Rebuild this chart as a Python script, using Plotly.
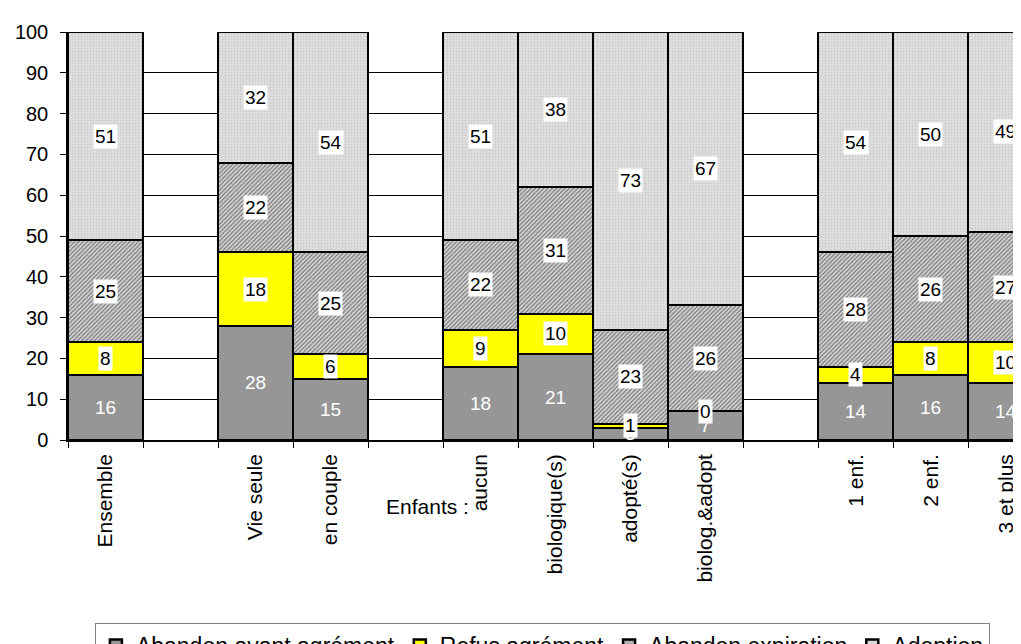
import plotly.graph_objects as go

categories = ["Ensemble", " ", "Vie seule", "en couple", "  ", "aucun", "biologique(s)",
              "adopté(s)", "biolog.&adopt", "   ", "1 enf.", "2 enf.", "3 et plus"]
abandon_avant = [16, None, 28, 15, None, 18, 21, 3, 7, None, 14, 16, 14]
refus = [8, None, 18, 6, None, 9, 10, 1, 0, None, 4, 8, 10]
abandon_exp = [25, None, 22, 25, None, 22, 31, 23, 26, None, 28, 26, 27]
adoption = [51, None, 32, 54, None, 51, 38, 73, 67, None, 54, 50, 49]
series_names = ["Abandon avant agrément", "Refus agrément", "Abandon expiration", "Adoption"]
y_ticks = list(range(0, 101, 10))

FONT = "Liberation Sans, Arial, sans-serif"
line = dict(color="black", width=2.5)

fig = go.Figure()
fig.add_bar(x=categories, y=abandon_avant, name=series_names[0],
            marker=dict(color="#969696", line=line))
fig.add_bar(x=categories, y=refus, name=series_names[1],
            marker=dict(color="#ffff00", line=line))
fig.add_bar(x=categories, y=abandon_exp, name=series_names[2],
            marker=dict(color="#b0b0b0", line=line,
                        pattern=dict(shape="/", fgcolor="#1a1a1a", bgcolor="#d4d4d4",
                                     size=3, solidity=0.4)))
fig.add_bar(x=categories, y=adoption, name=series_names[3],
            marker=dict(color="#dcdcdc", line=line,
                        pattern=dict(shape=".", fgcolor="#b4b4b4", bgcolor="#e0e0e0",
                                     size=3, solidity=0.3)))

annotations = []
series = [abandon_avant, refus, abandon_exp, adoption]
for si, s in enumerate(series):
    for ci, cat in enumerate(categories):
        v = s[ci]
        if v is None:
            continue
        base = sum(series[k][ci] for k in range(si))
        mid = base + v / 2
        if si == 0:
            annotations.append(dict(x=cat, y=mid, xref="x", yref="y", text=str(v),
                                    showarrow=False, font=dict(color="white", size=19, family=FONT)))
        else:
            annotations.append(dict(x=cat, y=mid, xref="x", yref="y", text=str(v),
                                    showarrow=False, bgcolor="white", borderpad=1,
                                    font=dict(color="black", size=19, family=FONT)))

annotations.append(dict(x="aucun", y=-0.164, xref="x", yref="paper", text="Enfants :",
                        showarrow=False, xanchor="right", yanchor="middle", xshift=-10,
                        font=dict(color="black", size=21, family=FONT)))

fig.update_layout(
    barmode="stack", bargap=0,
    width=1021, height=644,
    margin=dict(l=60, r=0, t=24, b=212, autoexpand=False),
    plot_bgcolor="white", paper_bgcolor="white",
    font=dict(family=FONT, size=20, color="black"),
    showlegend=True,
    legend=dict(orientation="h", x=0.028, xanchor="left", y=-0.4485, yanchor="top",
                bordercolor="#808080", borderwidth=1, font=dict(size=23),
                traceorder="normal", itemwidth=30),
    annotations=annotations,
)
fig.update_xaxes(type="category", range=[-0.5, 12.31], tickangle=-90,
                 showline=True, linecolor="black", linewidth=1.5,
                 ticks="outside", tickson="boundaries", ticklen=6, tickcolor="black",
                 showgrid=False, tickfont=dict(size=21), ticklabelstandoff=4,
                 automargin=False)
fig.update_yaxes(range=[0, 100], tickvals=y_ticks, showline=True, linecolor="black",
                 linewidth=1.5, ticks="outside", ticklen=6, tickcolor="black",
                 showgrid=True, gridcolor="black", gridwidth=1, zeroline=False,
                 tickfont=dict(size=20), ticklabelstandoff=8, automargin=False)

fig.write_html("out.html")
